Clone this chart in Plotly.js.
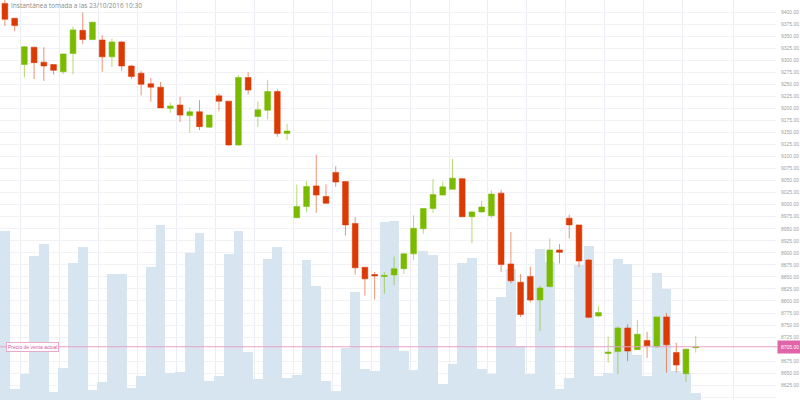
<!DOCTYPE html>
<html>
<head>
<meta charset="utf-8">
<script src="https://cdn.plot.ly/plotly-3.0.1.min.js"></script>
<style>html,body{margin:0;padding:0;background:#fff}#chart{width:800px;height:400px}</style>
</head>
<body>
<div id="chart"></div>
<script>
// Candle data (index order, oldest first)
var openP  = [9418,9387,9291,9327,9296,9291,9276,9314,9362,9343,9342,9307,9338,9288,9273,9251,9244,9200,9207,9185,9193,9161,9226,9215,9124,9264,9183,9196,9235,9148,
              8973,8996,9039,9017,9067,9048,8961,8870,8855,8851,8854,8867,8898,8950,8992,9020,9032,9054,8975,8985,8977,9024,8877,8839,8851,8802,8830,8906,8972,8958,
              8885,8769,8691,8695,8744,8699,8718,8705,8767,8693,8649,8703];
var highP  = [9432,9388,9329,9328,9327,9291,9314,9370,9399,9380,9352,9345,9340,9290,9278,9263,9255,9212,9224,9202,9217,9186,9231,9215,9269,9275,9214,9259,9240,9168,
              9042,9049,9104,9042,9080,9048,8974,8870,8860,8860,8892,8900,8978,8993,9053,9048,9095,9055,8988,9008,9029,9031,8943,8856,8871,8832,8930,8918,8979,8958,
              8887,8790,8726,8748,8752,8761,8736,8767,8775,8713,8700,8727];
var lowP   = [9371,9360,9264,9261,9257,9270,9271,9271,9334,9343,9276,9286,9278,9261,9227,9214,9201,9191,9172,9149,9155,9160,9195,9122,9122,9229,9161,9177,9141,9134,
              8972,8985,8983,9002,9037,8936,8855,8811,8803,8815,8833,8856,8885,8940,8983,9019,9031,8974,8920,8983,8973,8860,8837,8767,8797,8738,8828,8878,8930,8871,
              8764,8766,8672,8648,8675,8699,8682,8703,8651,8652,8632,8693];
var closeP = [9385,9372,9328,9295,9288,9279,9313,9363,9343,9379,9307,9338,9288,9266,9250,9244,9201,9205,9186,9193,9162,9186,9215,9124,9264,9238,9197,9235,9148,9153,
              8996,9038,9020,9003,9047,8958,8869,8846,8852,8853,8867,8898,8951,8992,9021,9037,9055,8975,8985,8995,9022,8876,8842,8772,8802,8827,8906,8901,8958,8883,
              8766,8776,8694,8744,8696,8731,8707,8767,8709,8667,8700,8705];
var volume = [169,11,26,144,156,8,32,137,153,10,18,126,126,12,24,133,175,27,28,147,167,19,24,146,169,48,21,141,153,22,
              25,140,114,19,9,52,108,31,29,178,179,49,30,149,145,16,36,137,142,31,26,103,131,54,26,151,138,11,22,135,
              154,24,27,141,136,45,24,127,111,29,27,7];
var currentPrice = 8705;
var priceLabel = "Precio de venta actual";
var snapshotText = "Instantánea tomada a las 23/10/2016 10:30";

var idx = openP.map(function(_, i){ return i; });

// vertical grid positions (time ticks)
var gridX = [];
for (var g = 1.65; g < 70; g += 4) gridX.push(g);
gridX.push(74.9);

// price ticks every 25, the one hidden by the current-price tag left out
var priceTicks = [];
for (var p = 8600; p <= 9425; p += 25) {
  if (Math.abs(p - currentPrice) > 10) priceTicks.push(p);
}

var volTrace = {
  type: 'bar', x: idx, y: volume, yaxis: 'y',
  marker: {color: '#d7e5f0', line: {width: 0}},
  hoverinfo: 'skip', showlegend: false
};
var candle = {
  type: 'candlestick', x: idx, open: openP, high: highP, low: lowP, close: closeP, yaxis: 'y2',
  increasing: {line: {color: 'rgba(122,187,0,0.55)', width: 1}, fillcolor: '#7abb00'},
  decreasing: {line: {color: 'rgba(221,58,6,0.55)', width: 1}, fillcolor: '#dc3a05'},
  whiskerwidth: 0, showlegend: false
};

var layout = {
  width: 800, height: 400,
  margin: {l: 0, r: 24, t: 0, b: 0},
  paper_bgcolor: '#ffffff', plot_bgcolor: '#ffffff',
  font: {family: 'Arial, "Liberation Sans", sans-serif', size: 5, color: '#9a9a9a'},
  showlegend: false,
  bargap: 0, boxgap: 0.41, boxgroupgap: 0,
  xaxis: {
    range: [-0.504, 79.25], tickvals: gridX, showticklabels: false, ticks: '',
    showgrid: true, gridcolor: '#ececf4', gridwidth: 1, zeroline: false,
    rangeslider: {visible: false}, fixedrange: true
  },
  yaxis: {
    range: [0, 400], visible: false, showgrid: false, zeroline: false
  },
  yaxis2: {
    overlaying: 'y', side: 'right', range: [8594.4, 9425.05], tickvals: priceTicks, tickformat: '.2f',
    showgrid: true, gridcolor: '#f1f1f6', gridwidth: 1, zeroline: false, ticks: '',
    ticklabelstandoff: 4, tickfont: {size: 5, color: '#a0a0a0'}, showline: false
  },
  shapes: [{
    type: 'line', xref: 'paper', x0: 0, x1: 1.002, yref: 'y2', y0: currentPrice, y1: currentPrice,
    line: {color: '#e7a2c6', width: 1}, layer: 'above'
  }],
  annotations: [
    {xref: 'paper', yref: 'y2', x: 0.008, y: currentPrice, xanchor: 'left', yanchor: 'middle',
     text: priceLabel, showarrow: false, font: {size: 5, color: '#d9579e'},
     bgcolor: '#ffffff', bordercolor: '#eaa8cc', borderwidth: 1, borderpad: 1},
    {xref: 'paper', yref: 'y2', x: 1, y: currentPrice, xanchor: 'left', yanchor: 'middle', xshift: 1,
     text: currentPrice.toFixed(2), showarrow: false, font: {size: 5, color: '#ffffff'},
     bgcolor: '#e064a8', borderpad: 3},
    {xref: 'paper', yref: 'paper', x: 0.012, y: 1, xanchor: 'left', yanchor: 'top', yshift: 1,
     text: snapshotText, showarrow: false, font: {family: 'Open Sans, Arial, sans-serif', size: 6.5, color: '#8a8a8a'}}
  ]
};

Plotly.newPlot('chart', [volTrace, candle], layout, {displayModeBar: false, staticPlot: true});
</script>
</body>
</html>
